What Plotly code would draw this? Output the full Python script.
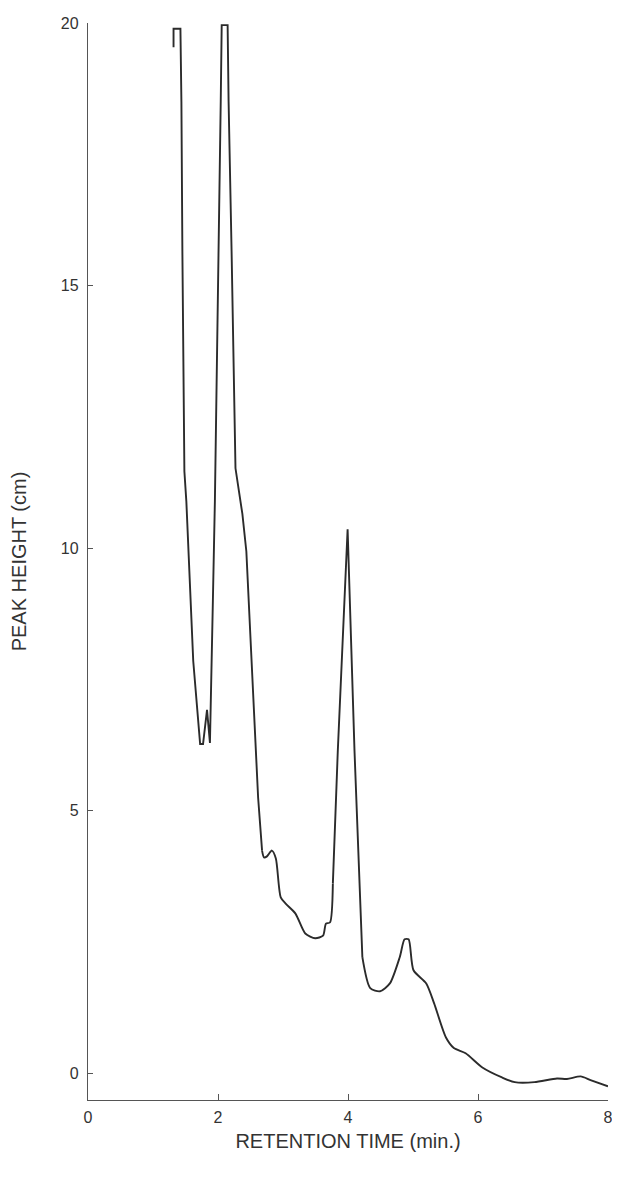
import plotly.graph_objects as go

# Retention time (min) and peak height (cm)
retention_time = [1.316, 1.316, 1.422, 1.437, 1.452, 1.483, 1.513, 1.573, 1.619, 1.725, 1.770,
                  1.831, 1.876, 1.921, 1.952, 2.042, 2.057, 2.148, 2.163, 2.209, 2.254, 2.269,
                  2.375, 2.436, 2.617, 2.678, 2.708, 2.753, 2.829, 2.890, 2.965, 3.041, 3.192,
                  3.343, 3.495, 3.616, 3.661, 3.722, 3.767, 3.843, 3.994, 4.100, 4.221, 4.342,
                  4.493, 4.644, 4.796, 4.871, 4.932, 5.008, 5.204, 5.325, 5.507, 5.628, 5.809,
                  6.067, 6.369, 6.566, 6.868, 7.216, 7.368, 7.579, 7.731, 8.0]
peak_height = [19.54, 19.89, 19.89, 18.50, 15.65, 11.46, 10.89, 8.99, 7.85, 6.27, 6.27,
               6.92, 6.29, 8.99, 10.89, 18.50, 19.96, 19.96, 18.50, 15.65, 11.84, 11.52,
               10.65, 9.94, 5.25, 4.24, 4.11, 4.13, 4.24, 4.09, 3.35, 3.23, 3.04,
               2.66, 2.57, 2.62, 2.85, 2.87, 3.61, 6.14, 10.36, 6.14, 2.21, 1.62,
               1.56, 1.71, 2.21, 2.55, 2.55, 1.96, 1.71, 1.33, 0.68, 0.48, 0.38,
               0.11, -0.08, -0.17, -0.17, -0.10, -0.11, -0.06, -0.13, -0.25]

x_ticks = [0, 2, 4, 6, 8]
y_ticks = [0, 5, 10, 15, 20]

# segments of the trace: sharp pen strokes drawn straight, smooth stretches as splines
segments = [(0, 26, "linear"), (25, 39, "spline"), (38, 43, "linear"), (42, 64, "spline")]

fig = go.Figure()
for start, end, shape in segments:
    fig.add_trace(go.Scatter(
        x=retention_time[start:end], y=peak_height[start:end], mode="lines",
        line=dict(color="#2b2b2b", width=1.9, shape=shape,
                  **({"smoothing": 0.7} if shape == "spline" else {})),
        showlegend=False,
    ))

font = dict(family="Liberation Sans, Arial, sans-serif", color="#333333")

fig.update_layout(
    width=612, height=1170,
    margin=dict(l=76, r=7, t=13, b=78),
    paper_bgcolor="white", plot_bgcolor="white",
    font=font,
)
fig.update_xaxes(
    range=[0, 8], tickvals=x_ticks, ticktext=[str(v) for v in x_ticks],
    showgrid=False, zeroline=False, showline=True, linecolor="#555555", linewidth=1.3,
    ticks="inside", ticklen=6, tickcolor="#555555",
    ticklabelstandoff=3, tickfont=dict(size=16, **font),
    title=dict(text="RETENTION TIME (min.)", font=dict(size=20, **font), standoff=8),
)
fig.update_yaxes(
    range=[-0.51, 20], tickvals=y_ticks, ticktext=[str(v) for v in y_ticks],
    showgrid=False, zeroline=False, showline=True, linecolor="#555555", linewidth=1.3,
    ticks="inside", ticklen=5, tickcolor="#555555",
    ticklabelstandoff=5, tickfont=dict(size=16, **font),
    title=dict(text="PEAK HEIGHT (cm)", font=dict(size=20, **font), standoff=32),
)

fig.write_html("out.html")
